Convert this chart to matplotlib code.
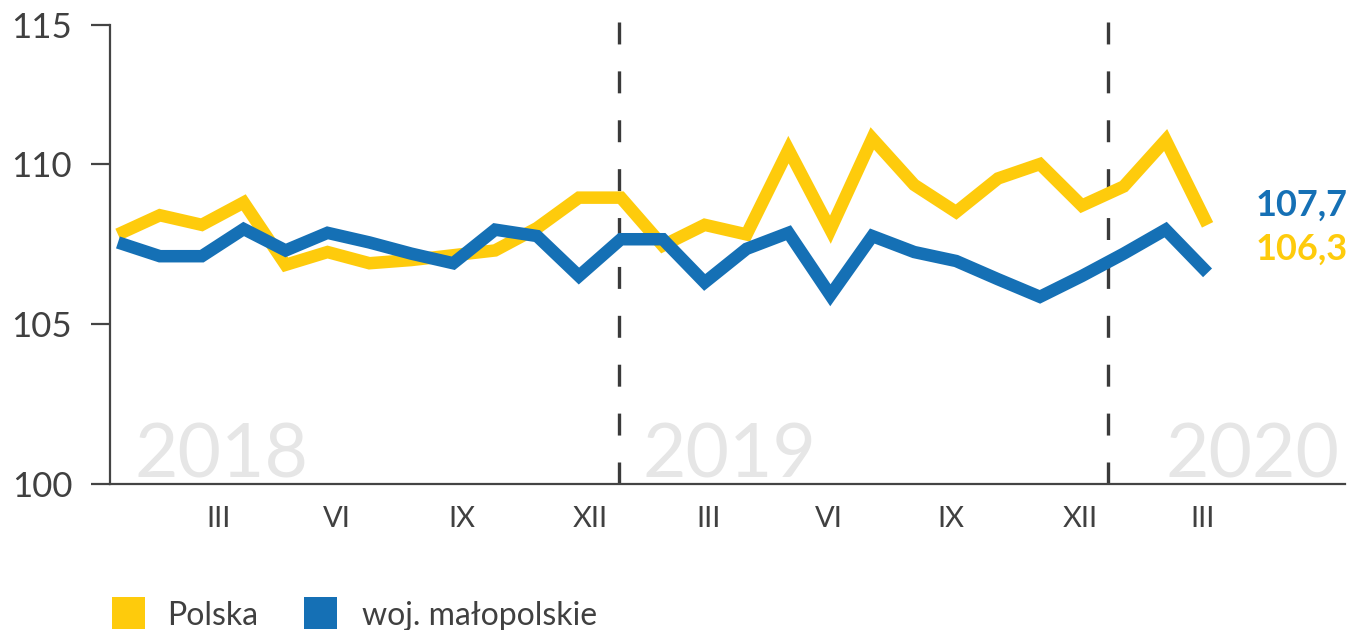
import numpy as np
import matplotlib
matplotlib.use('Agg')
import matplotlib.pyplot as plt
from matplotlib.patches import Rectangle

plt.rcParams['font.family'] = ['Lato', 'DejaVu Sans']
plt.rcParams['lines.scale_dashes'] = False

# miesiace I 2018 - III 2020
polska = [107.8, 108.4, 108.1, 108.8, 106.85, 107.25, 106.9, 107.0, 107.15, 107.3,
          108.0, 108.95, 108.95, 107.45, 108.1, 107.8, 110.45, 107.95, 110.8, 109.35,
          108.5, 109.55, 110.0, 108.7, 109.3, 110.75, 108.1]
malopolskie = [107.55, 107.12, 107.12, 107.97, 107.3, 107.85, 107.55, 107.2, 106.9, 107.95,
               107.75, 106.5, 107.65, 107.65, 106.3, 107.35, 107.85, 105.9, 107.75, 107.25,
               106.97, 106.4, 105.85, 106.5, 107.2, 107.95, 106.6]
months = np.arange(len(polska))

series_names = ['Polska', 'woj. małopolskie']
tick_labels = ['III', 'VI', 'IX', 'XII', 'III', 'VI', 'IX', 'XII', 'III']
y_labels = ['100', '105', '110', '115']
years = ['2018', '2019', '2020']
end_labels = ['107,7', '106,3']

yellow = '#FECB0C'
blue = '#1570B5'
dark = '#404040'
year_gray = '#E6E6E6'

fig = plt.figure(figsize=(13.5, 6.3), dpi=100)
ax = fig.add_axes([110 / 1350, 146 / 630, 1235 / 1350, 462 / 630])
ax.set_xlim(-0.19, 29.28)
ax.set_ylim(100, 114.44)

# napisy lat w tle
ax.text(0.4, 100.19, years[0], fontsize=54, color=year_gray, ha='left', va='baseline', zorder=0)
ax.text(12.52, 100.19, years[1], fontsize=54, color=year_gray, ha='left', va='baseline', zorder=0)
ax.text(29.16, 100.19, years[2], fontsize=54, color=year_gray, ha='right', va='baseline', zorder=0)

# granice lat
for b in [11.96, 23.63]:
    ax.plot([b, b], [114.44, 100], color='#3a3a3a', lw=2.4, dashes=[15.8, 19.4],
            clip_on=False, zorder=1)

ax.plot(months, polska, color=yellow, lw=9, solid_joinstyle='miter',
        solid_capstyle='butt', zorder=2)
ax.plot(months, malopolskie, color=blue, lw=9, solid_joinstyle='miter',
        solid_capstyle='butt', zorder=3)

ax.text(27.14, 108.375, end_labels[0], fontsize=26, fontweight='bold', color=blue,
        ha='left', va='baseline')
ax.text(27.14, 107.0, end_labels[1], fontsize=26, fontweight='bold', color=yellow,
        ha='left', va='baseline')

# osie
for s in ['top', 'right']:
    ax.spines[s].set_visible(False)
for s in ['left', 'bottom']:
    ax.spines[s].set_color('#444444')
    ax.spines[s].set_linewidth(1.6)
ax.spines['left'].set_bounds(100, 114.34)

ax.set_yticks([100, 105, 110, 114.34])
ax.set_yticklabels(y_labels)
ax.tick_params(axis='y', length=13.7, width=1.6, color='#444444', pad=13.5,
               labelsize=25, labelcolor=dark)

ax.set_xticks([2.41, 5.23, 8.2, 11.26, 14.1, 16.97, 19.88, 22.96, 25.88])
ax.set_xticklabels(tick_labels)
ax.tick_params(axis='x', length=0, pad=15.5, labelsize=21, labelcolor=dark)

# legenda
fig.add_artist(Rectangle((112 / 1350, 1 / 630), 33 / 1350, 32 / 630,
                         transform=fig.transFigure, color=yellow, lw=0))
fig.text(167 / 1350, 5 / 630, series_names[0], fontsize=23, color=dark, va='baseline')
fig.add_artist(Rectangle((304 / 1350, 1 / 630), 33 / 1350, 32 / 630,
                         transform=fig.transFigure, color=blue, lw=0))
fig.text(362 / 1350, 5 / 630, series_names[1], fontsize=23, color=dark, va='baseline')

fig.savefig('out.png', dpi=100)
